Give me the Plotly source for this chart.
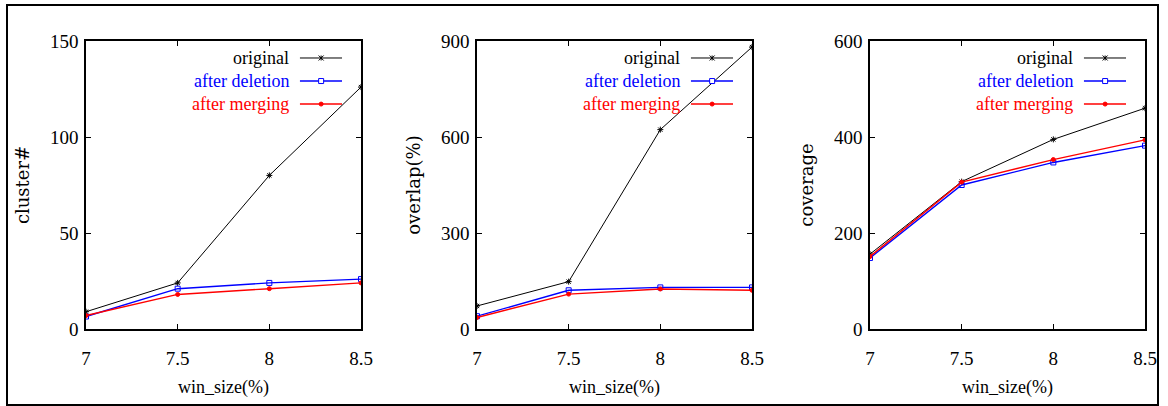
import plotly.graph_objects as go

win_size = [7, 7.5, 8, 8.5]
x_ticks = [7, 7.5, 8, 8.5]
x_tick_labels = ["7", "7.5", "8", "8.5"]

series_names = ["original", "after deletion", "after merging"]

cluster_original = [9, 24, 80, 126]
cluster_deletion = [6.5, 21, 24, 26]
cluster_merging = [7, 18, 21, 24]

overlap_original = [72, 148, 623, 881]
overlap_deletion = [40, 121, 130, 130]
overlap_merging = [36, 109, 125, 121]

coverage_original = [156, 307, 395, 460]
coverage_deletion = [148, 300, 347, 382]
coverage_merging = [151, 306, 353, 394]

y_titles = ["cluster#", "overlap(%)", "coverage"]
y_ranges = [[0, 150], [0, 900], [0, 600]]
y_dticks = [50, 300, 200]

colors = ["#000000", "#0000ff", "#ff0000"]
symbols = ["asterisk-open", "square-open", "circle"]
msizes = [5, 5, 4]
lwidths = [1, 1.4, 1.4]

W, H = 1168, 406
panels_px = [(86, 361), (477, 752), (870, 1145)]
y_top_px, y_bot_px = 41, 329

data = [
    [cluster_original, cluster_deletion, cluster_merging],
    [overlap_original, overlap_deletion, overlap_merging],
    [coverage_original, coverage_deletion, coverage_merging],
]

SERIF = "Liberation Serif"

fig = go.Figure()
shapes = []
annotations = []

for p, (x0, x1) in enumerate(panels_px):
    xa = "x" if p == 0 else f"x{p+1}"
    ya = "y" if p == 0 else f"y{p+1}"
    for s in range(3):
        fig.add_trace(go.Scatter(
            x=win_size, y=data[p][s], mode="lines+markers", name=series_names[s],
            xaxis=xa, yaxis=ya, showlegend=False,
            line=dict(color=colors[s], width=lwidths[s]),
            marker=dict(symbol=symbols[s], size=msizes[s], color=colors[s],
                        line=dict(color=colors[s], width=1)),
        ))
    axis_common = dict(
        showline=True, linecolor="black", linewidth=1.5, mirror="ticks",
        ticks="inside", ticklen=5, tickcolor="black", tickwidth=1,
        showgrid=False, zeroline=False, automargin=False,
        tickfont=dict(family=SERIF, size=19, color="black"),
    )
    fig.update_layout({
        ("xaxis" if p == 0 else f"xaxis{p+1}"): dict(
            axis_common, domain=[x0 / W, x1 / W], anchor=ya,
            range=[7, 8.5], tickvals=x_ticks, ticktext=x_tick_labels,
            ticklabelstandoff=11,
            title=dict(text="win_size(%)", font=dict(family=SERIF, size=18, color="black"), standoff=13),
        ),
        ("yaxis" if p == 0 else f"yaxis{p+1}"): dict(
            axis_common, domain=[1 - y_bot_px / H, 1 - y_top_px / H], anchor=xa,
            range=y_ranges[p], dtick=y_dticks[p], tick0=0,
            ticklabelstandoff=2,
            title=dict(text=y_titles[p], font=dict(family="DejaVu Serif", size=18, color="black"), standoff=16),
        ),
    })

    xref = f"{xa} domain"
    yref = f"{ya} domain"
    rows_y = [0.941, 0.861, 0.781]
    for s in range(3):
        annotations.append(dict(
            x=0.745, y=rows_y[s], xref=xref, yref=yref, text=series_names[s],
            showarrow=False, xanchor="right", yanchor="middle",
            font=dict(family=SERIF, size=18, color=colors[s]),
        ))
        shapes.append(dict(type="line", xref=xref, yref=yref,
                           x0=0.778, x1=0.931, y0=rows_y[s], y1=rows_y[s],
                           line=dict(color=colors[s], width=lwidths[s])))
        mx, my = 0.855, rows_y[s]
        dx, dy = 2.5 / 275, 2.5 / 288
        if s == 0:
            shapes.append(dict(type="line", xref=xref, yref=yref, x0=mx - dx, x1=mx + dx,
                               y0=my - dy, y1=my + dy, line=dict(color="black", width=1)))
            shapes.append(dict(type="line", xref=xref, yref=yref, x0=mx - dx, x1=mx + dx,
                               y0=my + dy, y1=my - dy, line=dict(color="black", width=1)))
            shapes.append(dict(type="line", xref=xref, yref=yref, x0=mx, x1=mx,
                               y0=my - dy, y1=my + dy, line=dict(color="black", width=1)))
        elif s == 1:
            shapes.append(dict(type="rect", xref=xref, yref=yref, x0=mx - dx, x1=mx + dx,
                               y0=my - dy, y1=my + dy, line=dict(color=colors[s], width=1),
                               fillcolor="white"))
        else:
            shapes.append(dict(type="circle", xref=xref, yref=yref, x0=mx - dx * 0.8, x1=mx + dx * 0.8,
                               y0=my - dy * 0.8, y1=my + dy * 0.8, line=dict(color=colors[s], width=1),
                               fillcolor=colors[s]))

shapes.append(dict(type="rect", xref="paper", yref="paper",
                   x0=7 / W, x1=1158 / W, y0=1 - 405 / H, y1=1 - 5 / H,
                   line=dict(color="black", width=2), fillcolor="rgba(0,0,0,0)", layer="below"))

fig.update_layout(
    width=W, height=H,
    margin=dict(l=0, r=0, t=0, b=0),
    paper_bgcolor="white", plot_bgcolor="white",
    shapes=shapes, annotations=annotations,
    showlegend=False,
)

fig.write_html("out.html")
